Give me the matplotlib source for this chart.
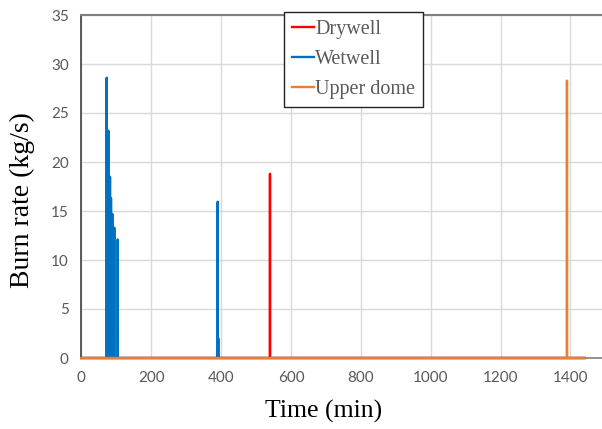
import numpy as np
import matplotlib
matplotlib.use("Agg")
import matplotlib.pyplot as plt

# ---- data ----
ww_spike_t = [72.7, 77.3, 82.1, 85.0, 88.7, 94.4, 104.2, 390.4, 392.0]
ww_spike_v = [28.6, 23.2, 18.5, 16.3, 14.7, 13.3, 12.1, 15.95, 2.0]
dw_spike_t = [540.0]
dw_spike_v = [18.8]
ud_spike_t = [1390.0]
ud_spike_v = [28.3]
t_end_series = 1440.0

xticks = [0, 200, 400, 600, 800, 1000, 1200, 1400]
yticks = [0, 5, 10, 15, 20, 25, 30, 35]


def spike_series(ts, vs, t_end, half_width=0.5):
    t = [0.0]
    v = [0.0]
    for ti, vi in zip(ts, vs):
        t += [ti - half_width, ti, ti + half_width]
        v += [0.0, vi, 0.0]
    t.append(t_end)
    v.append(0.0)
    return np.array(t), np.array(v)


W, H = 602, 429
fig = plt.figure(figsize=(W / 100, H / 100), dpi=100)
left_px, right_x_max = 81.3, 1500
px_per_min = 0.3494
bottom_px, top_px = 358, 15
ax = fig.add_axes([left_px / W, (H - bottom_px) / H,
                   right_x_max * px_per_min / W, (bottom_px - top_px) / H])

blue = "#0070C0"
red = "#FF0000"
orange = "#ED7D31"

t, v = spike_series(dw_spike_t, dw_spike_v, t_end_series)
ax.plot(t, v, color=red, lw=1.7, label="Drywell", zorder=3, clip_on=False)
t, v = spike_series(ww_spike_t, ww_spike_v, t_end_series)
ax.plot(t, v, color=blue, lw=1.7, label="Wetwell", zorder=3, clip_on=False)
t, v = spike_series(ud_spike_t, ud_spike_v, t_end_series)
ax.plot(t, v, color=orange, lw=1.7, label="Upper dome", zorder=4, clip_on=False)

ax.set_xlim(0, right_x_max)
ax.set_ylim(0, 35)
ax.set_xticks(xticks)
ax.set_yticks(yticks)
ax.grid(True, color="#D9D9D9", lw=1.0, zorder=0)
ax.set_axisbelow(True)
ax.tick_params(length=0, labelsize=11, labelcolor="#595959", pad=9)
for lab in ax.get_xticklabels() + ax.get_yticklabels():
    lab.set_family("Lato")

ax.spines["left"].set_color("#404040")
ax.spines["left"].set_linewidth(1.2)
ax.spines["top"].set_color("#808080")
ax.spines["top"].set_linewidth(1.5)
ax.spines["bottom"].set_color("#808080")
ax.spines["bottom"].set_linewidth(1.2)
ax.spines["right"].set_visible(False)

ax.set_xlabel("Time (min)", family="Liberation Serif", fontsize=18.5)
ax.xaxis.set_label_coords(0.463, -0.122)
ax.set_ylabel("Burn rate (kg/s)", family="Liberation Serif", fontsize=20, va="center")
ax.yaxis.set_label_coords(-0.113, 0.46)

leg = ax.legend(loc="upper left", bbox_to_anchor=(0.387, 1.009), borderaxespad=0,
                prop={"family": "Liberation Serif", "size": 14.5},
                frameon=True, fancybox=False, framealpha=1, edgecolor="#222222",
                handlelength=1.1, handletextpad=0.05, labelspacing=0.55,
                borderpad=0.4)
leg.get_frame().set_linewidth(1.0)
for txt in leg.get_texts():
    txt.set_color("#595959")
leg.set_zorder(10)

fig.savefig("out.png", dpi=100)
